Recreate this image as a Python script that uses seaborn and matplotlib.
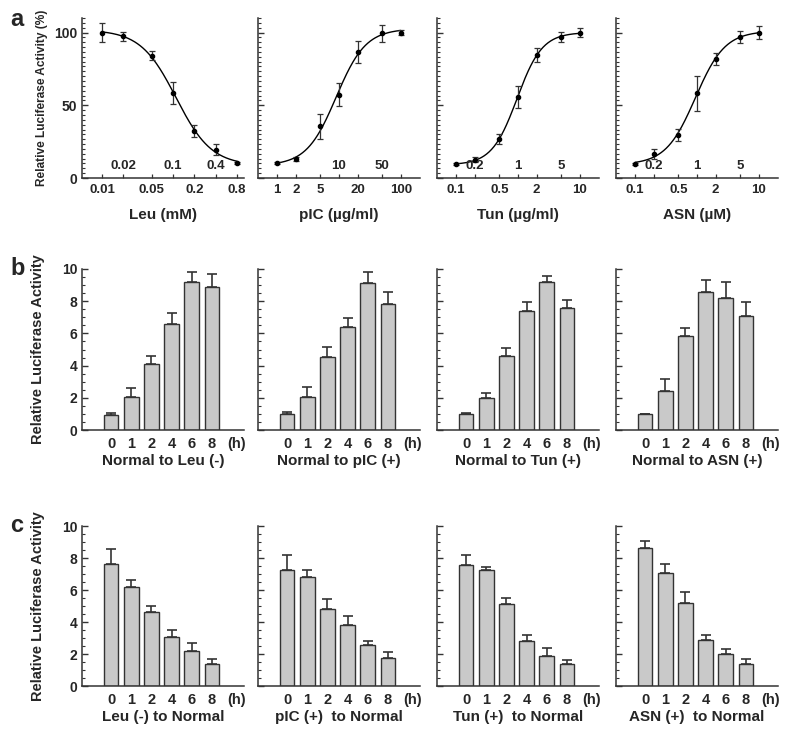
import numpy as np
import matplotlib
matplotlib.use('Agg')
import matplotlib.pyplot as plt
import matplotlib.transforms as mtransforms
from matplotlib.ticker import MultipleLocator, NullLocator, NullFormatter
import seaborn as sns

sns.set_theme(style='ticks')
plt.rcParams['font.family'] = ['Liberation Sans', 'DejaVu Sans']
plt.rcParams['font.weight'] = 'bold'

# ---- panel a: dose response ----
leu_conc = [0.01, 0.02, 0.05, 0.1, 0.2, 0.4, 0.8]
leu_act = [100, 97.3, 84, 58.4, 32.5, 19.5, 10.3]
leu_err = [6.5, 3.4, 3.2, 7.4, 4, 4, 1]
pic_conc = [1, 2, 5, 10, 20, 50, 100]
pic_act = [10.3, 13, 35.5, 57.2, 86.5, 99.5, 100]
pic_err = [1, 1.5, 8.5, 8, 7.7, 6, 2]
tun_conc = [0.1, 0.2, 0.5, 1, 2, 5, 10]
tun_act = [9.6, 12.6, 26.8, 55.6, 84.7, 96.8, 100]
tun_err = [0.5, 1.5, 3.4, 7.5, 5, 3.4, 2.8]
asn_conc = [0.1, 0.2, 0.5, 1, 2, 5, 10]
asn_act = [9.6, 16.5, 29.7, 58.4, 82, 96.8, 100]
asn_err = [1, 3.2, 4, 12, 4, 4.3, 4.6]

leu_outer = ['0.01', '0.05', '0.2', '0.8']
leu_inner = ['0.02', '0.1', '0.4']
pic_outer = ['1', '2', '5', '20', '100']
pic_inner = ['10', '50']
tun_outer = ['0.1', '0.5', '2', '10']
tun_inner = ['0.2', '1', '5']
asn_outer = ['0.1', '0.5', '2', '10']
asn_inner = ['0.2', '1', '5']

dose_xlabels = ['Leu (mM)', 'pIC (µg/ml)', 'Tun (µg/ml)', 'ASN (µM)']
dose_xlims = [(0.0052, 1.0), (0.49, 205), (0.049, 20.5), (0.049, 20.5)]

# ---- panels b, c: time course ----
hours = ['0', '1', '2', '4', '6', '8']

b_leu = [0.93, 2.07, 4.1, 6.56, 9.21, 8.9]
b_leu_err = [0.15, 0.52, 0.5, 0.69, 0.58, 0.79]
b_pic = [0.99, 2.03, 4.55, 6.42, 9.11, 7.83]
b_pic_err = [0.11, 0.62, 0.58, 0.52, 0.72, 0.72]
b_tun = [0.97, 1.97, 4.6, 7.41, 9.17, 7.56]
b_tun_err = [0.07, 0.31, 0.51, 0.56, 0.42, 0.51]
b_asn = [0.97, 2.44, 5.86, 8.59, 8.18, 7.1]
b_asn_err = [0.03, 0.73, 0.5, 0.73, 1.03, 0.87]

c_leu = [7.6, 6.19, 4.63, 3.06, 2.19, 1.4]
c_leu_err = [0.96, 0.41, 0.37, 0.42, 0.5, 0.27]
c_pic = [7.27, 6.81, 4.79, 3.81, 2.58, 1.77]
c_pic_err = [0.9, 0.46, 0.63, 0.57, 0.23, 0.33]
c_tun = [7.54, 7.23, 5.15, 2.79, 1.85, 1.4]
c_tun_err = [0.63, 0.21, 0.33, 0.42, 0.53, 0.25]
c_asn = [8.63, 7.08, 5.21, 2.85, 2.02, 1.35]
c_asn_err = [0.41, 0.52, 0.67, 0.34, 0.29, 0.32]

b_xlabels = ['Normal to Leu (-)', 'Normal to pIC (+)', 'Normal to Tun (+)', 'Normal to ASN (+)']
c_xlabels = ['Leu (-) to Normal', 'pIC (+)  to Normal', 'Tun (+)  to Normal', 'ASN (+)  to Normal']

INK = '#333333'
BAR = '#c9c9c9'


def hill_curve(conc, act):
    # crude 4-parameter logistic fit on a grid, for the smooth line
    lx = np.log10(conc)
    y = np.asarray(act, float)
    cs = np.linspace(lx.min(), lx.max(), 200)
    hs = np.concatenate([np.linspace(-5, -0.3, 60), np.linspace(0.3, 5, 60)])
    C, H = np.meshgrid(cs, hs, indexing='ij')
    s = 1 / (1 + 10 ** ((C[..., None] - lx) * H[..., None]))
    sm = s.mean(-1, keepdims=True)
    ym = y.mean()
    d = ((s - sm) * (y - ym)).sum(-1) / ((s - sm) ** 2).sum(-1)
    b = ym - d * sm[..., 0]
    resid = ((b[..., None] + d[..., None] * s - y) ** 2).sum(-1)
    i = np.unravel_index(resid.argmin(), resid.shape)
    xs = np.logspace(lx.min(), lx.max(), 200)
    ys = b[i] + d[i] / (1 + 10 ** ((C[i] - np.log10(xs)) * H[i]))
    return xs, ys


def style_axis(ax):
    sns.despine(ax=ax)
    for sp in ['left', 'bottom']:
        ax.spines[sp].set_color(INK)
        ax.spines[sp].set_linewidth(1.1)
    ax.tick_params(axis='both', which='both', direction='in', color=INK)
    ax.tick_params(axis='y', which='major', length=4.5, width=1)
    ax.tick_params(axis='y', which='minor', length=2, width=0.8)


def bold_ticks(ax):
    for t in ax.get_xticklabels() + ax.get_yticklabels():
        t.set_fontweight('bold')


W, H_PX = 787, 731
fig = plt.figure(figsize=(W / 100, H_PX / 100), dpi=100)
col_left = [82, 258, 437, 616]
col_w = 162


def add_ax(left, top, bottom):
    return fig.add_axes([left / W, 1 - bottom / H_PX, col_w / W, (bottom - top) / H_PX])


# panel a
dose = [(leu_conc, leu_act, leu_err, leu_outer, leu_inner),
        (pic_conc, pic_act, pic_err, pic_outer, pic_inner),
        (tun_conc, tun_act, tun_err, tun_outer, tun_inner),
        (asn_conc, asn_act, asn_err, asn_outer, asn_inner)]
for k, (conc, act, err, outer, inner) in enumerate(dose):
    ax = add_ax(col_left[k], 18, 178)
    ax.set_xscale('log')
    xs, ys = hill_curve(conc, act)
    sns.lineplot(x=xs, y=ys, ax=ax, color='black', linewidth=1)
    ax.errorbar(conc, act, yerr=err, fmt='o', ms=3, color='black', ecolor=INK,
                elinewidth=0.9, capsize=2.5, capthick=0.9)
    ax.set_xlim(*dose_xlims[k])
    ax.set_ylim(0, 110)
    ax.set_xticks([float(v) for v in outer], labels=outer)
    ax.xaxis.set_minor_locator(NullLocator())
    ax.set_xticks([float(v) for v in inner], minor=True)
    ax.xaxis.set_minor_formatter(NullFormatter())
    ax.yaxis.set_major_locator(MultipleLocator(50))
    ax.yaxis.set_minor_locator(MultipleLocator(10 / 3))
    style_axis(ax)
    ax.tick_params(axis='x', which='both', length=3, width=0.9, labelsize=9.5, pad=4)
    ax.tick_params(axis='y', labelsize=10)
    trans = mtransforms.blended_transform_factory(ax.transData, ax.transAxes)
    for lab in inner:
        ax.text(float(lab), 0.035, lab, transform=trans, ha='center', va='bottom',
                fontsize=9.5, fontweight='bold')
    ax.set_xlabel(dose_xlabels[k], fontsize=11, fontweight='bold', labelpad=9)
    if k == 0:
        ax.set_ylabel('Relative Luciferase Activity (%)', fontsize=8.6, fontweight='bold')
        ax.yaxis.set_label_coords(-0.21, 0.5)
    else:
        ax.tick_params(axis='y', labelleft=False)
    bold_ticks(ax)

# panels b and c
rows = [((269, 430), [(b_leu, b_leu_err), (b_pic, b_pic_err), (b_tun, b_tun_err), (b_asn, b_asn_err)], b_xlabels),
        ((526, 686), [(c_leu, c_leu_err), (c_pic, c_pic_err), (c_tun, c_tun_err), (c_asn, c_asn_err)], c_xlabels)]
for (top, bottom), series, xlabels in rows:
    for k, (vals, err) in enumerate(series):
        ax = add_ax(col_left[k], top, bottom)
        sns.barplot(x=hours, y=vals, color=BAR, edgecolor=INK, linewidth=1,
                    width=0.72, saturation=1, errorbar=None, ax=ax)
        ax.errorbar(range(len(hours)), vals, yerr=[np.zeros(len(vals)), err], fmt='none',
                    ecolor=INK, elinewidth=1.2, capsize=3.5, capthick=1.2)
        ax.set_xlim(-1.45, 6.6)
        ax.set_ylim(0, 10)
        ax.set_xticks(list(range(len(hours))) + [6.25], labels=hours + ['(h)'])
        ax.yaxis.set_major_locator(MultipleLocator(2))
        ax.yaxis.set_minor_locator(MultipleLocator(0.5))
        style_axis(ax)
        ax.tick_params(axis='x', length=0, labelsize=10.5, pad=5)
        ax.tick_params(axis='y', labelsize=10)
        ax.set_xlabel(xlabels[k], fontsize=11, fontweight='bold', labelpad=2)
        ax.set_ylabel('')
        if k == 0:
            ax.set_ylabel('Relative Luciferase Activity', fontsize=10.5, fontweight='bold')
            ax.yaxis.set_label_coords(-0.23, 0.5)
        else:
            ax.tick_params(axis='y', labelleft=False)
        bold_ticks(ax)

for lab, ypx in [('a', 20), ('b', 268), ('c', 526)]:
    fig.text(10 / W, 1 - ypx / H_PX, lab, fontsize=17, fontweight='bold', va='center')

fig.savefig('out.png', dpi=100)
